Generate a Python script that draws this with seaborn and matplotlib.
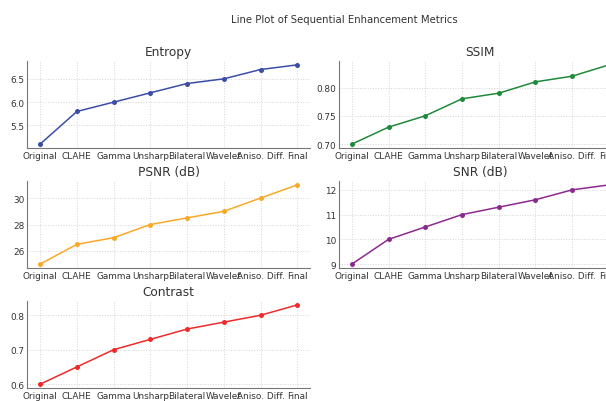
import pandas as pd
import numpy as np
import matplotlib.pyplot as plt
import seaborn as sns

# Data
steps = ['Original', 'CLAHE', 'Gamma', 'Unsharp', 'Bilateral', 'Wavelet', 'Aniso. Diff.', 'Final']
entropy = [5.1, 5.8, 6.0, 6.2, 6.4, 6.5, 6.7, 6.8]
ssim = [0.70, 0.73, 0.75, 0.78, 0.79, 0.81, 0.82, 0.84]
psnr = [25.0, 26.5, 27.0, 28.0, 28.5, 29.0, 30.0, 31.0]
snr = [9.0, 10.0, 10.5, 11.0, 11.3, 11.6, 12.0, 12.2]
contrast = [0.60, 0.65, 0.70, 0.73, 0.76, 0.78, 0.80, 0.83]

metrics = [
    ('Entropy', entropy, '#3a4ea8'),
    ('SSIM', ssim, '#1f8a3a'),
    ('PSNR (dB)', psnr, '#f8a928'),
    ('SNR (dB)', snr, '#8b2a8e'),
    ('Contrast', contrast, '#f02a2a'),
]

sns.set_theme(style='whitegrid')
plt.rcParams['font.family'] = ['DejaVu Sans']
plt.rcParams.update({
    'grid.linestyle': ':',
    'grid.color': '#d5d5d5',
    'grid.linewidth': 0.7,
    'axes.edgecolor': '#777777',
    'axes.linewidth': 0.8,
    'xtick.color': '#333333',
    'ytick.color': '#333333',
})

fig, axes = plt.subplots(3, 2, figsize=(6.06, 4.02), dpi=100)
fig.subplots_adjust(left=0.045, right=1.026, top=0.846, bottom=0.032,
                    wspace=0.102, hspace=0.377)

for ax, (name, vals, color) in zip(axes.flat, metrics):
    df = pd.DataFrame({'step': steps, 'value': vals})
    sns.lineplot(data=df, x='step', y='value', ax=ax, color=color,
                 marker='o', markersize=3.6, markeredgewidth=0, linewidth=1.1)
    ax.set_title(name, fontsize=8.7, color='#333333', pad=4)
    ax.set_xlabel('')
    ax.set_ylabel('')
    ax.tick_params(axis='both', labelsize=6.4, length=0, pad=2)
    for side in ['top', 'right']:
        ax.spines[side].set_visible(False)

axes[2, 1].set_visible(False)

# the original figure was wider and got cropped on the right, so centre the title there
fig.suptitle('Line Plot of Sequential Enhancement Metrics', fontsize=7.3,
             x=0.568, y=0.963, color='#333333')
plt.savefig('out.png', dpi=100)
